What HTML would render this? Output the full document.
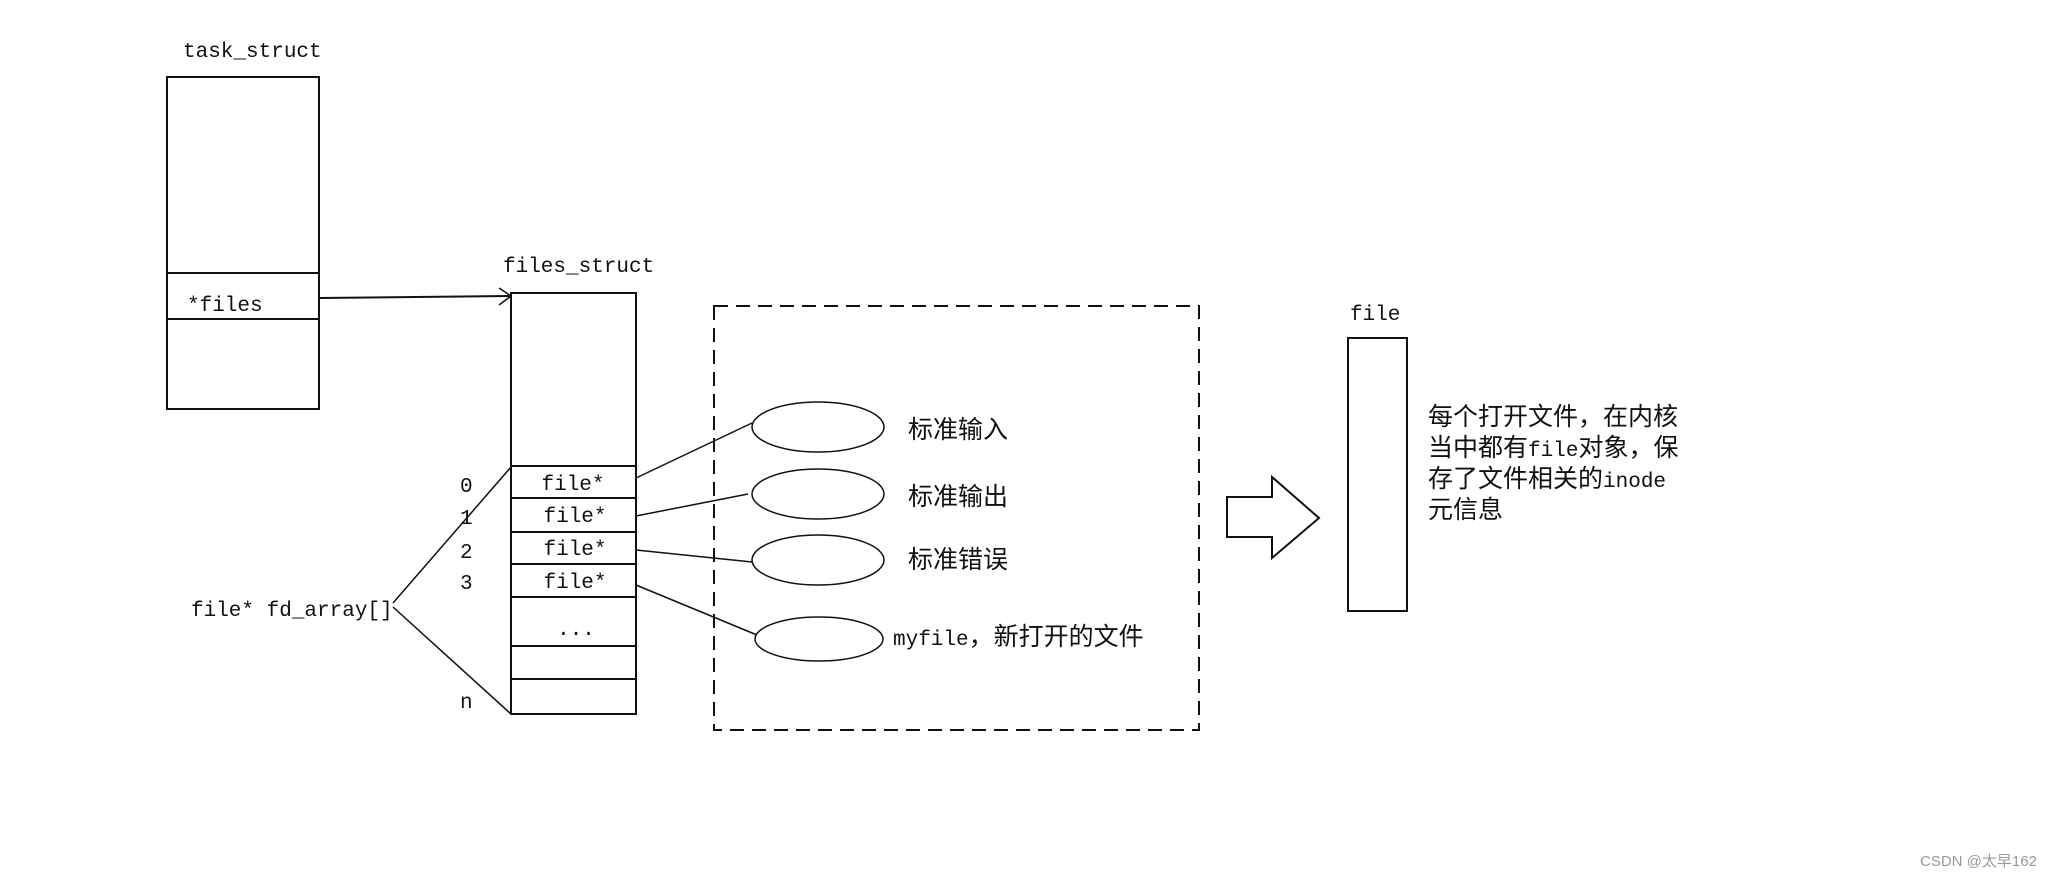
<!DOCTYPE html>
<html><head><meta charset="utf-8"><style>
html,body{margin:0;padding:0;background:#fff;}
svg{display:block;}
.m{font-family:"Liberation Mono","Noto Sans CJK SC",monospace;font-size:21px;fill:#111;}
.c{font-family:"Liberation Sans","Noto Sans CJK SC",sans-serif;font-size:25px;fill:#111;}
</style></head><body>
<svg width="2048" height="879" viewBox="0 0 2048 879" xmlns="http://www.w3.org/2000/svg">
<g stroke="#111" stroke-width="2" fill="none">
<rect x="167" y="77" width="152" height="332"/>
<line x1="167" y1="273" x2="319" y2="273"/>
<line x1="167" y1="319" x2="319" y2="319"/>
<line x1="319" y1="298" x2="511" y2="296"/>
<polyline points="499,288 511,296 499,305" stroke-width="1.5"/>
<rect x="511" y="293" width="125" height="421"/>
<line x1="511" y1="466" x2="636" y2="466"/>
<line x1="511" y1="498" x2="636" y2="498"/>
<line x1="511" y1="532" x2="636" y2="532"/>
<line x1="511" y1="564" x2="636" y2="564"/>
<line x1="511" y1="597" x2="636" y2="597"/>
<line x1="511" y1="646" x2="636" y2="646"/>
<line x1="511" y1="679" x2="636" y2="679"/>
<g stroke-width="1.5">
<line x1="393" y1="603" x2="511" y2="467"/>
<line x1="393" y1="607" x2="511" y2="714"/>
<line x1="636" y1="478" x2="752" y2="423"/>
<line x1="636" y1="516" x2="748" y2="494"/>
<line x1="636" y1="550" x2="752" y2="562"/>
<line x1="636" y1="585" x2="757" y2="635"/>
<ellipse cx="818" cy="427" rx="66" ry="25"/>
<ellipse cx="818" cy="494" rx="66" ry="25"/>
<ellipse cx="818" cy="560" rx="66" ry="25"/>
<ellipse cx="819" cy="639" rx="64" ry="22"/>
</g>
<rect x="714" y="306" width="485" height="424" stroke-dasharray="14,8"/>
<polygon points="1227,497 1272,497 1272,477 1319,518 1272,558 1272,537 1227,537"/>
<rect x="1348" y="338" width="59" height="273"/>
</g>
<text class="m" x="183" y="57">task_struct</text>
<text class="m" x="187" y="311">*files</text>
<text class="m" x="503" y="272">files_struct</text>
<g class="m" text-anchor="middle">
<text x="573" y="490">file*</text>
<text x="575" y="522">file*</text>
<text x="575" y="555">file*</text>
<text x="575" y="588">file*</text>
<text x="576" y="635">...</text>
</g>
<text class="m" x="460" y="492">0</text>
<text class="m" x="460" y="524">1</text>
<text class="m" x="460" y="558">2</text>
<text class="m" x="460" y="589">3</text>
<text class="m" x="460" y="708">n</text>
<text class="m" x="191" y="616">file* fd_array[]</text>
<text class="c" x="908" y="438">标准输入</text>
<text class="c" x="908" y="505">标准输出</text>
<text class="c" x="908" y="568">标准错误</text>
<text class="c" x="893" y="645"><tspan class="m">myfile</tspan>，新打开的文件</text>
<text class="m" x="1350" y="320">file</text>
<g class="c">
<text x="1428" y="425">每个打开文件，在内核</text>
<text x="1428" y="456">当中都有<tspan class="m">file</tspan>对象，保</text>
<text x="1428" y="487">存了文件相关的<tspan class="m">inode</tspan></text>
<text x="1428" y="518">元信息</text>
</g>
<text x="1920" y="866" style="font-family:'Liberation Sans','Noto Sans CJK SC',sans-serif;font-size:15px;fill:#999;">CSDN @太早162</text>
</svg>
</body></html>
